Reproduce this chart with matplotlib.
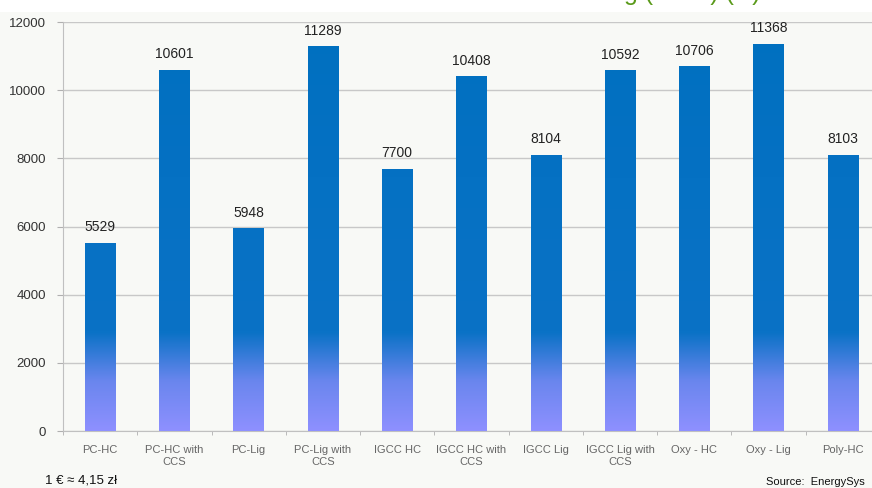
'''
investment cost per technology - bar chart with gradient bars
'''
import numpy as np
import matplotlib.pyplot as plt
from matplotlib.colors import LinearSegmentedColormap
from matplotlib.patches import Rectangle

categories = ['PC-HC', 'PC-HC with\nCCS', 'PC-Lig', 'PC-Lig with\nCCS', 'IGCC HC',
              'IGCC HC with\nCCS', 'IGCC Lig', 'IGCC Lig with\nCCS', 'Oxy - HC',
              'Oxy - Lig', 'Poly-HC']
values = [5529, 10601, 5948, 11289, 7700, 10408, 8104, 10592, 10706, 11368, 8103]
y_ticks = [0, 2000, 4000, 6000, 8000, 10000, 12000]

bg = '#f8f9f6'
fig = plt.figure(figsize=(8.72, 4.88), dpi=100)
fig.patch.set_facecolor('white')
# off-white panel behind the chart
fig.patches.append(Rectangle((0, 0), 1, 0.975, transform=fig.transFigure,
                             facecolor=bg, edgecolor='none', zorder=-10))

ax = fig.add_axes([0.0722, 0.1168, 0.937, 0.838])
ax.set_facecolor(bg)

n = len(categories)
x = np.arange(n)
width = 0.41

# gradient: solid blue at top, fading to light violet at zero
cmap = LinearSegmentedColormap.from_list(
    'bars', [(0.0, '#8e90ff'), (0.12, '#6a86ee'), (0.24, '#0a72c6'), (1.0, '#0070c0')])
grad = np.linspace(0, 1, 256).reshape(-1, 1)

bars = ax.bar(x, values, width=width, color='none', edgecolor='none', zorder=3)
for b in bars:
    im = ax.imshow(grad, cmap=cmap, origin='lower', aspect='auto',
                   extent=[b.get_x(), b.get_x() + b.get_width(), 0, 12000],
                   zorder=3, interpolation='bilinear')
    im.set_clip_path(b)

for xi, v in zip(x, values):
    ax.text(xi, v + 250, str(v), ha='center', va='bottom', fontsize=10, color='#222222',
            family='Liberation Sans')

ax.set_xlim(-0.5, n - 0.5)
ax.set_ylim(0, 12000)
ax.set_yticks(y_ticks)
ax.set_yticklabels([str(t) for t in y_ticks], fontsize=9.5, color='#333333',
                   family='Liberation Sans')
ax.yaxis.grid(True, color='#c8c8c8', linewidth=1.0, zorder=0)
ax.set_axisbelow(True)

ax.set_xticks(x)
ax.set_xticklabels(categories, fontsize=8, color='#666666', family='Liberation Sans',
                   linespacing=1.25)
ax.tick_params(axis='x', length=0, pad=10)
ax.set_xticks(np.arange(n + 1) - 0.5, minor=True)
ax.tick_params(axis='x', which='minor', length=3, color='#b0b0b0')
ax.tick_params(axis='y', length=4, color='#b0b0b0', pad=8)

for s in ['top', 'right']:
    ax.spines[s].set_visible(False)
ax.spines['left'].set_color('#c0c0c0')
ax.spines['bottom'].set_color('#c0c0c0')

fig.text(0.052, 0.003, '1 € ≈ 4,15 zł', fontsize=9.5, color='#111111',
         family='Liberation Sans', va='bottom')
fig.text(0.878, 0.003, 'Source:  EnergySys', fontsize=8, color='#111111',
         family='Liberation Sans', va='bottom')
# green title, mostly cut off at the top edge (only descenders show)
fig.text(0.70, 1.0, 'ng (€/kW) (zł)', fontsize=18, color='#5a9a1a',
         family='Liberation Sans', va='baseline')

fig.savefig('out.png', dpi=100, facecolor=fig.get_facecolor())
